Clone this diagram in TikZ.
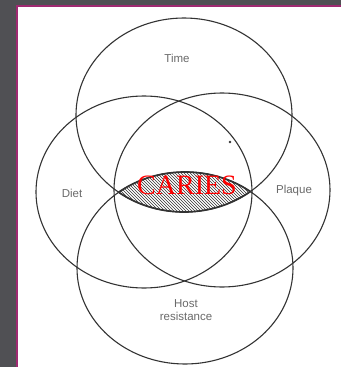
\documentclass[tikz,border=0pt]{standalone}
\usepackage{fontspec}
\setmainfont{Liberation Serif}
\newfontfamily\labelfont{Liberation Sans}
\usetikzlibrary{patterns}
\definecolor{bgdark}{HTML}{505054}
\definecolor{framemag}{HTML}{A02A72}
\definecolor{ringgray}{HTML}{333333}
\definecolor{labelgray}{HTML}{6A6A6A}
\tikzset{
  ring/.style={draw=ringgray, line width=1.1pt},
  lenspart/.style={draw=ringgray, line width=1.7pt},
  venntext/.style={font=\labelfont\fontsize{11.5}{13}\selectfont, text=labelgray, align=center, inner sep=0pt},
  bigtext/.style={font=\fontsize{28}{28}\selectfont, text=red, inner sep=0pt}
}
\begin{document}
\begin{tikzpicture}[x=1pt,y=-1pt]
\useasboundingbox (0,0) rectangle (341,367);
\fill[bgdark] (0,0) rectangle (341,367);
\fill[framemag] (16,5) rectangle (341,367);
\fill[white] (18,7) rectangle (341,367);
% hatched lens
\begin{scope}
  \clip (184,115) ellipse [x radius=108pt, y radius=97pt];
  \fill[pattern=north west lines, pattern color=ringgray] (185,268) ellipse [x radius=108pt, y radius=96pt];
  \draw[lenspart] (185,268) ellipse [x radius=108pt, y radius=96pt];
\end{scope}
\begin{scope}
  \clip (185,268) ellipse [x radius=108pt, y radius=96pt];
  \draw[lenspart] (184,115) ellipse [x radius=108pt, y radius=97pt];
\end{scope}
% rings
\draw[ring] (184,115) ellipse [x radius=108pt, y radius=97pt];
\draw[ring] (144,192) ellipse [x radius=108pt, y radius=96pt];
\draw[ring] (222,190) ellipse [x radius=108pt, y radius=97pt];
\draw[ring] (185,268) ellipse [x radius=108pt, y radius=96pt];
% small mark
\fill[ringgray] (230,142) circle [radius=1.3pt];
% labels
\node[venntext] (time) at (177,58) {Time};
\node[venntext] (diet) at (72,193) {Diet};
\node[venntext] (plaque) at (294,191) {Plaque};
\node[venntext] (host) at (186,310) {Host\\[0pt]resistance};
\node[bigtext] (caries) at (187,185) {CARIES};
\end{tikzpicture}
\end{document}
